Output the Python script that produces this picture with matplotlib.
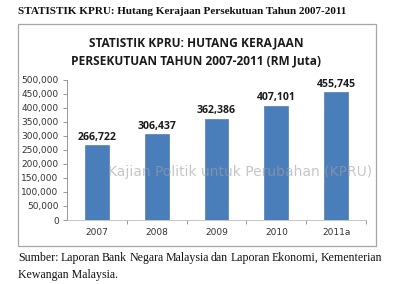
import matplotlib
matplotlib.use('Agg')
import matplotlib.pyplot as plt
from matplotlib.patches import Rectangle

years = ['2007', '2008', '2009', '2010', '2011a']
debt = [266722, 306437, 362386, 407101, 455745]
yticks = list(range(0, 500001, 50000))

header = 'STATISTIK KPRU: Hutang Kerajaan Persekutuan Tahun 2007-2011'
chart_title = 'STATISTIK KPRU: HUTANG KERAJAAN\nPERSEKUTUAN TAHUN 2007-2011 (RM Juta)'
watermark = 'Kajian Politik untuk Perubahan (KPRU)'
source_line1 = 'Sumber: Laporan Bank Negara Malaysia dan Laporan Ekonomi, Kementerian'
source_line2 = 'Kewangan Malaysia.'

W, H = 400, 284
fig = plt.figure(figsize=(W / 100, H / 100), dpi=100)
fig.patch.set_facecolor('white')

# chart frame
fig.patches.append(Rectangle((18 / W, 1 - 246 / H), (376 - 18) / W, (246 - 24) / H,
                             transform=fig.transFigure, fill=False,
                             edgecolor='#a6a6a6', linewidth=0.9))

ax = fig.add_axes([67 / W, 1 - 220 / H, (366 - 67) / W, (220 - 80) / H])
x = range(len(years))
bars = ax.bar(x, debt, width=0.4, color='#4a7ebb', edgecolor='#3e6da8', linewidth=0.4)
for xi, v in zip(x, debt):
    ax.text(xi, v + 9000, f'{v:,}', ha='center', va='bottom',
            fontsize=7.6, fontweight='bold', family='Open Sans', color='#1a1a1a')

ax.set_xlim(-0.5, len(years) - 0.5)
ax.set_ylim(0, 500000)
ax.set_yticks(yticks)
ax.set_yticklabels([f'{t:,}' for t in yticks], fontsize=6.5, family='DejaVu Sans',
                   color='#333333')
ax.set_xticks(list(x))
ax.set_xticklabels(years, fontsize=6.5, family='DejaVu Sans', color='#333333')
ax.tick_params(axis='x', length=0, pad=6)
ax.tick_params(axis='y', length=3, width=0.6, color='#888888', pad=3)
ax.set_xticks([i + 0.5 for i in range(len(years))], minor=True)
ax.tick_params(axis='x', which='minor', length=3, width=0.6, color='#888888')
for s in ['top', 'right']:
    ax.spines[s].set_visible(False)
ax.spines['left'].set_color('#888888')
ax.spines['left'].set_linewidth(0.6)
ax.spines['bottom'].set_color('#bbbbbb')
ax.spines['bottom'].set_linewidth(0.6)

fig.text(18 / W, 1 - 12 / H, header, ha='left', va='center', fontsize=8.0,
         fontweight='bold', family='Liberation Serif', color='#111111')
fig.text(196 / W, 1 - 52 / H, chart_title, ha='center', va='center', fontsize=8.6,
         fontweight='bold', family='Open Sans', color='#1a1a1a', linespacing=1.5)
fig.text(240 / W, 1 - 172 / H, watermark, ha='center', va='center', fontsize=10,
         family='DejaVu Sans', color='#a0a0a0', alpha=0.6)

# justified source line
fig.canvas.draw()
r = fig.canvas.get_renderer()
words = source_line1.split(' ')
objs = [fig.text(0, 1 - 258 / H, w, ha='left', va='center', fontsize=8.6,
                 family='Liberation Serif', color='#111111') for w in words]
widths = [o.get_window_extent(r).width for o in objs]
left, right = 18, 382
gap = (right - left - sum(widths)) / (len(words) - 1)
pos = left
for o, wd in zip(objs, widths):
    o.set_x(pos / W)
    pos += wd + gap
fig.text(18 / W, 1 - 275 / H, source_line2, ha='left', va='center', fontsize=8.6,
         family='Liberation Serif', color='#111111')

fig.savefig('out.png', dpi=100)
